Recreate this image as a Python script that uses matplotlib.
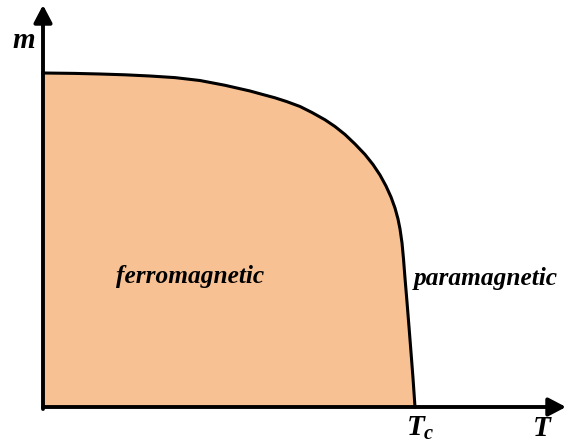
import matplotlib
matplotlib.use("Agg")
import matplotlib.pyplot as plt

plt.rcParams['mathtext.fontset'] = 'custom'
plt.rcParams['mathtext.it'] = 'Liberation Serif:bold:italic'
plt.rcParams['mathtext.rm'] = 'Liberation Serif:bold'

T_vals = [0.0, 0.0860, 0.1532, 0.2204, 0.2876, 0.3548, 0.4220, 0.4892, 0.5565, 0.5887,
          0.6237, 0.6559, 0.6909, 0.7231, 0.7581, 0.7849, 0.8118, 0.8387, 0.8656,
          0.8871, 0.9059, 0.9220, 0.9355, 0.9462, 0.9543, 0.9597, 0.9651, 0.9691,
          0.9731, 0.9785, 0.9839, 0.9892, 0.9946, 1.0]
m_vals = [1.0, 0.9988, 0.9970, 0.9946, 0.9910, 0.9862, 0.9775, 0.9632, 0.9461, 0.9362,
          0.9257, 0.9141, 0.8997, 0.8817, 0.8599, 0.8398, 0.8159, 0.7874, 0.7560,
          0.7260, 0.6946, 0.6617, 0.6287, 0.5958, 0.5629, 0.5329, 0.4910, 0.4431,
          0.3862, 0.3144, 0.2395, 0.1647, 0.0868, 0.0]

fill_color = '#F8C194'
font = dict(family='Liberation Serif', weight='bold', style='italic', color='black')

fig = plt.figure(figsize=(5.66, 4.48), dpi=100)
ax = fig.add_axes([0, 0, 1, 1])
ax.set_xlim(-43/372, 523/372)
ax.set_ylim(-41/334, 407/334)
ax.axis('off')

ax.fill_between(T_vals, m_vals, 0, color=fill_color, lw=0, zorder=1)
ax.plot(T_vals, m_vals, color='black', lw=2.2, zorder=2, solid_joinstyle='round')

arrow = dict(arrowstyle='-|>,head_length=1.05,head_width=0.55', lw=2.8, color='black',
             shrinkA=0, shrinkB=0)
ax.annotate('', xy=(0, 402/334), xytext=(0, -0.006), arrowprops=arrow, zorder=3)
ax.annotate('', xy=(523/372, 0), xytext=(0, 0), arrowprops=arrow, zorder=3)

ax.text(-19/372, (407-40)/334, 'm', fontsize=21, ha='center', va='center', **font)
ax.text((542-43)/372, -(428-407)/334, 'T', fontsize=21, ha='center', va='center', **font)
ax.text((406-43)/372, -(428-407)/334, r'$T_c$', fontsize=21, ha='left', va='center',
        color='black')
ax.text((190-43)/372, (407-276)/334, 'ferromagnetic', fontsize=18.3, ha='center', va='center', **font)
ax.text((486-43)/372, (407-278)/334, 'paramagnetic', fontsize=18.3, ha='center', va='center', **font)

fig.savefig('out.png', dpi=100)
